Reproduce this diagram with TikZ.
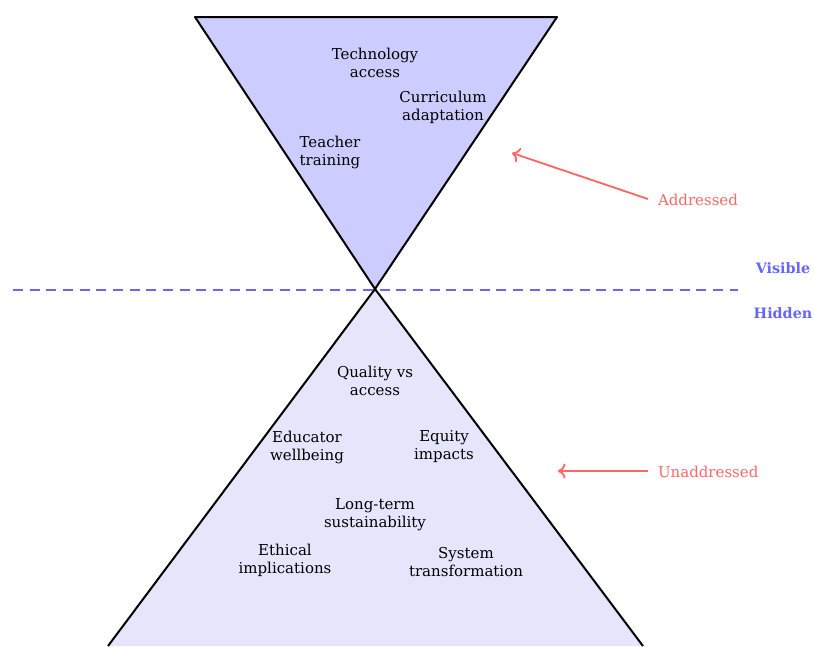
\documentclass[tikz,border=0pt]{standalone}
\usepackage{fontspec}
\setmainfont{DejaVu Serif}
\usetikzlibrary{arrows.meta}
\definecolor{topfill}{RGB}{204,204,255}
\definecolor{botfill}{RGB}{229,229,252}
\definecolor{redc}{RGB}{255,102,102}
\definecolor{bluec}{RGB}{102,102,255}
\tikzset{
  lbl/.style={align=center, font=\fontsize{9}{10.8}\selectfont, inner sep=1pt},
  side/.style={font=\fontsize{9}{10.8}\selectfont, text=redc, inner sep=1pt},
  zone/.style={font=\bfseries\fontsize{8.6}{10}\selectfont, text=bluec, inner sep=1pt},
  ptr/.style={draw=redc, line width=1.1pt, -{To[length=4.5pt,width=9pt]}},
  cone/.style={draw=black, line width=1.2pt, line join=round},
}
\begin{document}
\begin{tikzpicture}[x=0.6pt,y=-0.6pt]
\useasboundingbox (0,0) rectangle (814,646);
% bottom cone
\fill[botfill] (375,289) -- (108,646) -- (643,646) -- cycle;
\draw[cone] (108,646) -- (375,289) -- (643,646);
% top cone
\filldraw[cone, fill=topfill] (195,17) -- (557,17) -- (375,289) -- cycle;
% dashed divider
\coordinate (dl) at (13,290);
\coordinate (dr) at (738,290);
\draw[bluec, line width=1pt, dash pattern=on 6pt off 4pt] (dl) -- (dr);
\node[zone] (vis) at (783,268) {Visible};
\node[zone] (hid) at (783,313) {Hidden};
% top labels
\node[lbl] (tech) at (375,63) {Technology\\access};
\node[lbl] (curr) at (443,107) {Curriculum\\adaptation};
\node[lbl] (teach) at (330,152) {Teacher\\training};
% bottom labels
\node[lbl] (qual) at (375,381) {Quality vs\\access};
\node[lbl] (educ) at (307,447) {Educator\\wellbeing};
\node[lbl] (equi) at (444,447) {Equity\\impacts};
\node[lbl] (long) at (375,515) {Long-term\\sustainability};
\node[lbl] (ethi) at (285,560) {Ethical\\implications};
\node[lbl] (syst) at (466,562) {System\\transformation};
% side annotations
\node[side, anchor=west] (addr) at (656,200) {Addressed};
\node[side, anchor=west] (unad) at (656,472) {Unaddressed};
\coordinate (as) at (648,199);
\coordinate (at) at (512,153);
\coordinate (us) at (648,471);
\coordinate (ut) at (558,471);
\draw[ptr] (as) -- (at);
\draw[ptr] (us) -- (ut);
\end{tikzpicture}
\end{document}
